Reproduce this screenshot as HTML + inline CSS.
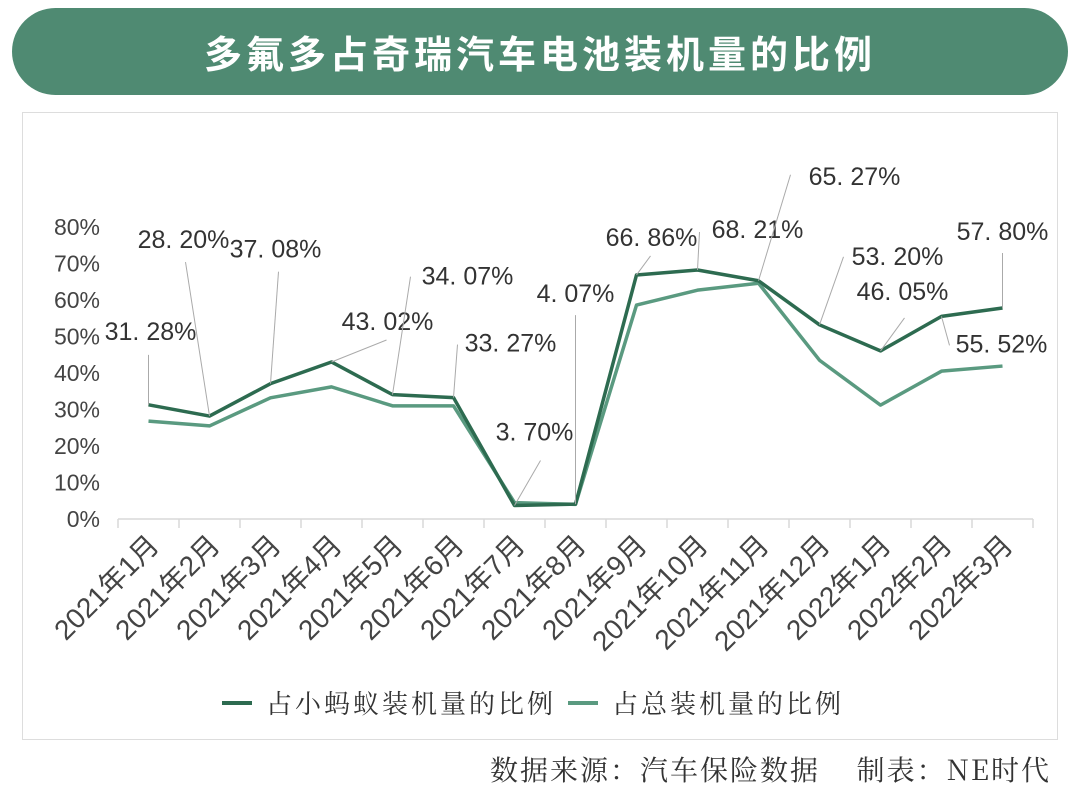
<!DOCTYPE html>
<html><head><meta charset="utf-8">
<style>
html,body{margin:0;padding:0;background:#fff;}
body{width:1080px;height:810px;overflow:hidden;position:relative;font-family:"Liberation Sans","Noto Sans CJK SC",sans-serif;}
#title{position:absolute;left:12px;top:8px;width:1056px;height:87px;background:#4f8a72;border-radius:44px;color:#fff;font-size:38px;font-weight:bold;text-align:center;line-height:87px;letter-spacing:4px;font-family:"Noto Sans CJK SC",sans-serif;}
#box{position:absolute;left:22px;top:112px;width:1036px;height:628px;border:1px solid #ddd;box-sizing:border-box;}
#source{position:absolute;left:490px;top:749px;font-size:28px;letter-spacing:2px;color:#333;font-family:"Noto Serif CJK SC","Noto Sans CJK SC",serif;white-space:nowrap;}
</style></head>
<body>
<div id="title">多氟多占奇瑞汽车电池装机量的比例</div>
<div id="box"></div>
<svg id="chart" width="1080" height="810" style="position:absolute;left:0;top:0"></svg>
<div id="source">数据来源：汽车保险数据&nbsp;&nbsp;&nbsp;&nbsp;制表：NE时代</div>
<script>
const categories=["2021年1月","2021年2月","2021年3月","2021年4月","2021年5月","2021年6月","2021年7月","2021年8月","2021年9月","2021年10月","2021年11月","2021年12月","2022年1月","2022年2月","2022年3月"];
const antShare=[31.28,28.20,37.08,43.02,34.07,33.27,3.70,4.07,66.86,68.21,65.27,53.20,46.05,55.52,57.80];
const totalShare=[26.8,25.5,33.2,36.2,31.0,31.0,4.5,4.0,58.6,62.7,64.6,43.5,31.2,40.5,41.9];
const valueLabels=["31. 28%","28. 20%","37. 08%","43. 02%","34. 07%","33. 27%","3. 70%","4. 07%","66. 86%","68. 21%","65. 27%","53. 20%","46. 05%","55. 52%","57. 80%"];
const yTicks=[0,10,20,30,40,50,60,70,80];
const seriesNames=["占小蚂蚁装机量的比例","占总装机量的比例"];
// label placement offsets (style)
const labelOff=[[2,-65],[-26,-168],[5,-126],[56,-32],[75,-110],[57,-46],[20,-65],[0,-202],[15,-29],[60,-32],[96,-96],[78,-60],[22,-51],[60,36],[0,-68]];
const leaderOff=[[0,-50],[-24,-154],[8,-112],[55,-22],[18,-118],[4,-53],[26,-45],[0,-189],[14,-19],[2,-38],[32,-106],[24,-68],[24,-33],[8,29],[0,-55]];

const NS="http://www.w3.org/2000/svg";
const svg=document.getElementById('chart');
const X0=118,X1=1033,Y0=519,Ymax=80,Ytop=227;
const step=(X1-X0)/categories.length;
function x(i){return X0+step*(i+0.5);}
function y(v){return Y0-(v/Ymax)*(Y0-Ytop);}
function mk(tag,attrs){const e=document.createElementNS(NS,tag);for(const k in attrs)e.setAttribute(k,attrs[k]);svg.appendChild(e);return e;}

let ax=mk('line',{x1:X0,y1:Y0,x2:X1,y2:Y0,stroke:'#d9d9d9','stroke-width':1.5});


for(let i=0;i<=categories.length;i++){
  let t=mk('line',{x1:X0+step*i,y1:Y0,x2:X0+step*i,y2:Y0+9,stroke:'#d9d9d9','stroke-width':1.5});
  
  
}
yTicks.forEach(v=>{
  let t=mk('text',{x:100,y:y(v)+8,'text-anchor':'end','font-size':23,fill:'#444'});
  t.textContent=v+'%';
  
  
});
categories.forEach((c,i)=>{
  const ax_=x(i)+12, ay=Y0+28;
  let t=mk('text',{x:ax_,y:ay,'text-anchor':'end','font-size':28,fill:'#444',transform:`rotate(-45 ${ax_} ${ay})`});
  t.textContent=c;
  
  
});
function line(data,color,w,name){
  let p=mk('polyline',{points:data.map((v,i)=>x(i)+','+y(v)).join(' '),fill:'none',stroke:color,'stroke-width':w,'stroke-linejoin':'round'});
  
  
}
line(totalShare,'#5a9a80',3.5,'series-total-share');
line(antShare,'#2d6b50',3.5,'series-ant-share');
antShare.forEach((v,i)=>{
  const px=x(i),py=y(v);
  const lx=px+labelOff[i][0],ly=py+labelOff[i][1];
  const ex=px+leaderOff[i][0],ey=py+leaderOff[i][1];
  let l=mk('line',{x1:px,y1:py,x2:ex,y2:ey,stroke:'#aaa','stroke-width':1});
  
  
  let t=mk('text',{x:lx,y:ly,'text-anchor':'middle','font-size':25,fill:'#333'});
  t.textContent=valueLabels[i];
  
  
});
[[222,'#2d6b50',0],[568,'#5a9a80',1]].forEach(([lx,c,k])=>{
  let s=mk('line',{x1:lx,y1:703,x2:lx+30,y2:703,stroke:c,'stroke-width':4});
  
  
  let t=mk('text',{x:lx+44,y:713,'font-size':26,'letter-spacing':3,fill:'#333','font-family':'Noto Serif CJK SC,serif'});
  t.textContent=seriesNames[k];
  
  
});
</script>
</body></html>
